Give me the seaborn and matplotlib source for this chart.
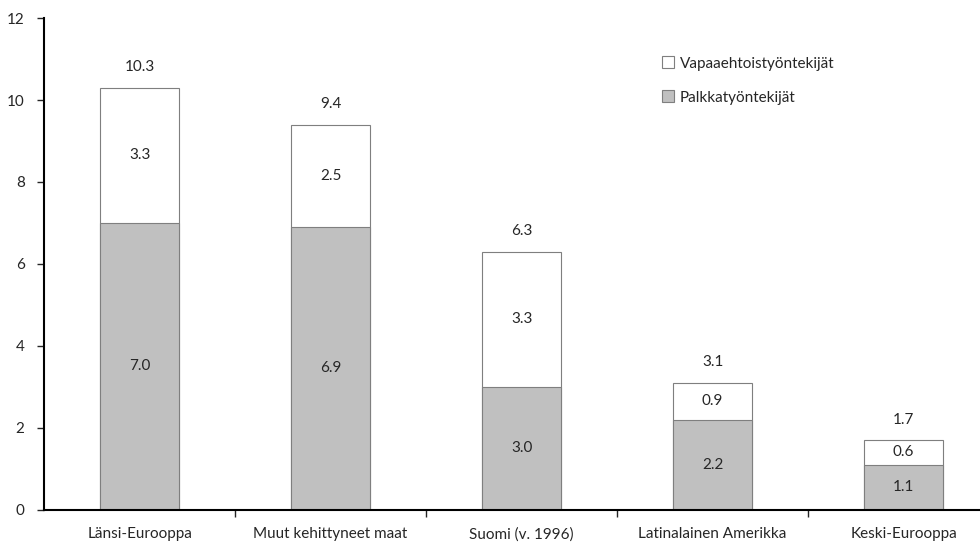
import matplotlib
matplotlib.use('Agg')
import matplotlib.pyplot as plt
import seaborn as sns
import pandas as pd

categories = ['Länsi-Eurooppa', 'Muut kehittyneet maat', 'Suomi (v. 1996)',
              'Latinalainen Amerikka', 'Keski-Eurooppa']
palkka = [7.0, 6.9, 3.0, 2.2, 1.1]
vapaa = [3.3, 2.5, 3.3, 0.9, 0.6]
total = [10.3, 9.4, 6.3, 3.1, 1.7]

df = pd.DataFrame({'maa': categories, 'palkka': palkka, 'vapaa': vapaa, 'total': total})

sns.set_style('white')
plt.rcParams['font.family'] = ['Lato', 'DejaVu Sans']

fig = plt.figure(figsize=(9.8, 5.47), dpi=100)
ax = fig.add_axes([0.045, 0.068, 0.955, 0.899])

sns.barplot(data=df, x='maa', y='total', color='white', edgecolor='#7f7f7f',
            linewidth=0.8, width=0.41, ax=ax, label='Vapaaehtoistyöntekijät')
sns.barplot(data=df, x='maa', y='palkka', color='#c0c0c0', saturation=1,
            edgecolor='#7f7f7f', linewidth=0.8, width=0.41, ax=ax,
            label='Palkkatyöntekijät')

fs = 11
for i in range(len(categories)):
    ax.text(i, palkka[i] / 2, f'{palkka[i]:.1f}', ha='center', va='center', fontsize=fs)
    ax.text(i, palkka[i] + vapaa[i] / 2, f'{vapaa[i]:.1f}', ha='center', va='center', fontsize=fs)
    ax.text(i, total[i] + 0.5, f'{total[i]:.1f}', ha='center', va='center', fontsize=fs)

ax.set_ylim(0, 12)
ax.set_yticks([0, 2, 4, 6, 8, 10, 12])
ax.set_xlim(-0.5, 4.4)
ax.set_xticks([0.5, 1.5, 2.5, 3.5], minor=True)
ax.set_xlabel('')
ax.set_ylabel('')

for s in ['top', 'right']:
    ax.spines[s].set_visible(False)
for s in ['left', 'bottom']:
    ax.spines[s].set_color('black')
    ax.spines[s].set_linewidth(1.5)

ax.tick_params(axis='y', which='major', left=True, length=5, width=1, labelsize=fs, pad=9)
ax.tick_params(axis='x', which='major', bottom=False, labelsize=fs, pad=9)
ax.tick_params(axis='x', which='minor', bottom=True, length=5, width=1)

ax.legend(loc='upper left', bbox_to_anchor=(0.645, 0.95), frameon=False, fontsize=fs,
          handlelength=0.8, handleheight=0.8, handletextpad=0.4, labelspacing=1.3)

fig.savefig('out.png', dpi=100)
